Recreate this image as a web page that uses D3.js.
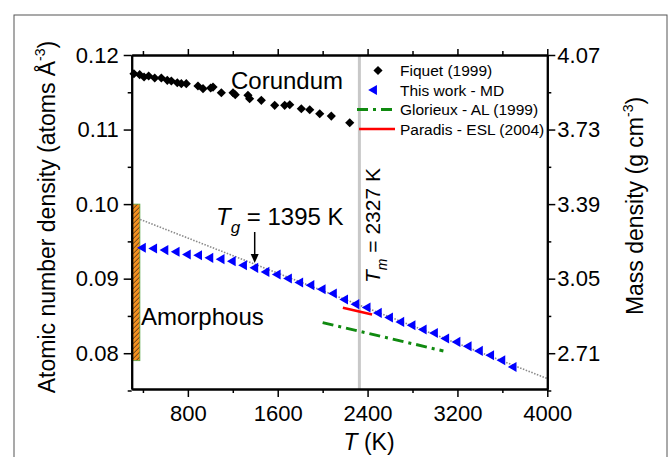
<!DOCTYPE html>
<html>
<head>
<meta charset="utf-8">
<script src="https://cdn.jsdelivr.net/npm/d3@7"></script>
<style>
body { margin: 0; background: #fff; }
text { font-family: "Liberation Sans", Arial, sans-serif; }
</style>
</head>
<body>
<div id="chart"></div>
<script>
// corundum, Fiquet (1999)
var corundumT = [320, 371, 410, 451, 505, 564, 617, 653, 706, 742, 786, 890, 935, 1003, 1024, 1098,
                 1202, 1222, 1335, 1350, 1454, 1573, 1662, 1707, 1810, 1885, 1974, 2077, 2241]
var corundumRho = [0.11749, 0.11736, 0.11705, 0.11718, 0.11691, 0.11691, 0.11660, 0.11651, 0.11628,
                   0.11615, 0.11615, 0.11584, 0.11548, 0.11557, 0.11570, 0.11494, 0.11494, 0.11467,
                   0.11459, 0.11413, 0.11392, 0.11325, 0.11325, 0.11333, 0.11279, 0.11266, 0.11212,
                   0.11181, 0.11091]
// this work - MD
var mdT = [400, 500, 600, 700, 800, 900, 1000, 1100, 1200, 1300, 1400, 1500, 1600, 1700, 1800, 1900,
           2000, 2100, 2200, 2300, 2400, 2500, 2600, 2700, 2800, 2900, 3000, 3100, 3200, 3300, 3400,
           3500, 3600, 3700]
var mdRho = [0.09414, 0.09405, 0.09383, 0.09360, 0.09325, 0.09315, 0.09279, 0.09262, 0.09235, 0.09181,
             0.09145, 0.09091, 0.09056, 0.09003, 0.08949, 0.08913, 0.08859, 0.08801, 0.08720, 0.08658,
             0.08613, 0.08541, 0.08479, 0.08420, 0.08376, 0.08318, 0.08272, 0.08197, 0.08152, 0.08094,
             0.08031, 0.07973, 0.07906, 0.07816]
// linear fit of the liquid
var fitT = [375, 4000]
var fitRho = [0.09795, 0.0766]
var glorieuxT = [2000, 3075]
var glorieuxRho = [0.0841, 0.0803]
var paradisT = [2180, 2440]
var paradisRho = [0.0861, 0.0852]
var amorphousT = [300, 373]
var amorphousRho = [0.0790, 0.1000]
var tm = 2327
var tg = 1395

var xMajor = [800, 1600, 2400, 3200, 4000]
var xMinor = [400, 1200, 2000, 2800, 3600]
var yMajor = [0.08, 0.09, 0.10, 0.11, 0.12]
var yMinor = [0.075, 0.085, 0.095, 0.105, 0.115]
var yLabels = ["0.08", "0.09", "0.10", "0.11", "0.12"]
var massLabels = ["2.71", "3.05", "3.39", "3.73", "4.07"]
var legendNames = ["Fiquet (1999)", "This work - MD", "Glorieux - AL (1999)", "Paradis - ESL (2004)"]

var svgSize = { width: 669, height: 457 }
var margin = { top: 55, left: 131.7 }
var chartSize = { width: 415.6, height: 334 }

var svg = d3.select("#chart").append("svg")
    .attr("width", svgSize.width)
    .attr("height", svgSize.height)

// outer grey frame
svg.append("rect")
    .attr("x", 14).attr("y", 15)
    .attr("width", 653).attr("height", 470)
    .attr("fill", "none").attr("stroke", "#555").attr("stroke-width", 1)

var defs = svg.append("defs")
var hatch = defs.append("pattern")
    .attr("id", "hatch").attr("patternUnits", "userSpaceOnUse")
    .attr("width", 5).attr("height", 5)
hatch.append("rect").attr("width", 5).attr("height", 5).attr("fill", "#f4901e")
hatch.append("path").attr("d", "M-1,6 L6,-1 M-1,1 L1,-1 M4,6 L6,4")
    .attr("stroke", "#222").attr("stroke-width", 0.8)

var frame = svg.append("g")
    .attr("transform", `translate(${margin.left}, ${margin.top})`)

var xScale = d3.scaleLinear().domain([300, 4000]).range([0, chartSize.width])
var yScale = d3.scaleLinear().domain([0.0752, 0.12]).range([chartSize.height, 0])

// melting line
frame.append("line")
    .attr("x1", xScale(tm)).attr("x2", xScale(tm))
    .attr("y1", 0).attr("y2", chartSize.height)
    .attr("stroke", "#c8c8c8").attr("stroke-width", 3)

// amorphous bar
frame.append("rect")
    .attr("x", xScale(amorphousT[0]))
    .attr("y", yScale(amorphousRho[1]))
    .attr("width", xScale(amorphousT[1]) - xScale(amorphousT[0]))
    .attr("height", yScale(amorphousRho[0]) - yScale(amorphousRho[1]))
    .attr("fill", "url(#hatch)").attr("stroke", "#5aa84a").attr("stroke-width", 0.8)

var line = d3.line().x(d => xScale(d[0])).y(d => yScale(d[1]))

frame.append("path")
    .attr("d", line(d3.zip(fitT, fitRho)))
    .attr("stroke", "#8a8a8a").attr("stroke-width", 1.6)
    .attr("stroke-dasharray", "1.5,1.5").attr("fill", "none")

frame.append("path")
    .attr("d", line(d3.zip(glorieuxT, glorieuxRho)))
    .attr("stroke", "#108a10").attr("stroke-width", 3)
    .attr("stroke-dasharray", "11,5,3,5").attr("fill", "none")

frame.append("path")
    .attr("d", line(d3.zip(paradisT, paradisRho)))
    .attr("stroke", "#ff0000").attr("stroke-width", 2.5).attr("fill", "none")

var diamond = d3.symbol().type(d3.symbolSquare).size(42)
var triangle = d3.symbol().type(d3.symbolTriangle).size(44)

frame.append("g").selectAll("path").data(d3.zip(corundumT, corundumRho))
    .enter().append("path")
    .attr("d", diamond)
    .attr("transform", d => `translate(${xScale(d[0])},${yScale(d[1])}) rotate(45)`)
    .attr("fill", "#000")

frame.append("g").selectAll("path").data(d3.zip(mdT, mdRho))
    .enter().append("path")
    .attr("d", triangle)
    .attr("transform", d => `translate(${xScale(d[0])},${yScale(d[1])}) rotate(-90)`)
    .attr("fill", "#0000ff")

// axes
function styleAxis(g) {
    g.select(".domain").attr("stroke", "#000").attr("stroke-width", 2)
    g.selectAll(".tick line").attr("stroke", "#000").attr("stroke-width", 1.5)
    g.selectAll(".tick text").attr("font-size", 22).attr("fill", "#000")
        .attr("font-family", "Liberation Sans, Arial, sans-serif")
}

frame.append("g").attr("transform", `translate(0, ${chartSize.height})`)
    .call(d3.axisBottom(xScale).tickValues(xMajor).tickSize(8).tickPadding(8).tickSizeOuter(0)
        .tickFormat(d3.format("d")))
    .call(styleAxis)
frame.append("g").attr("transform", `translate(0, ${chartSize.height})`)
    .call(d3.axisBottom(xScale).tickValues(xMinor).tickSize(4).tickFormat("").tickSizeOuter(0))
    .call(styleAxis)
frame.append("g")
    .call(d3.axisTop(xScale).tickValues(xMajor).tickSize(6).tickFormat("").tickSizeOuter(0))
    .call(styleAxis)
frame.append("g")
    .call(d3.axisTop(xScale).tickValues(xMinor).tickSize(4).tickFormat("").tickSizeOuter(0))
    .call(styleAxis)

frame.append("g")
    .call(d3.axisLeft(yScale).tickValues(yMajor).tickSize(8).tickPadding(5).tickSizeOuter(0)
        .tickFormat((d, i) => yLabels[i]))
    .call(styleAxis)
frame.append("g")
    .call(d3.axisLeft(yScale).tickValues(yMinor).tickSize(4).tickFormat("").tickSizeOuter(0))
    .call(styleAxis)
frame.append("g").attr("transform", `translate(${chartSize.width}, 0)`)
    .call(d3.axisRight(yScale).tickValues(yMajor).tickSize(8).tickPadding(2).tickSizeOuter(0)
        .tickFormat((d, i) => massLabels[i]))
    .call(styleAxis)
frame.append("g").attr("transform", `translate(${chartSize.width}, 0)`)
    .call(d3.axisRight(yScale).tickValues(yMinor).tickSize(4).tickFormat("").tickSizeOuter(0))
    .call(styleAxis)

// axis titles
var xt = svg.append("text").attr("x", 369).attr("y", 450)
    .attr("text-anchor", "middle").attr("font-size", 23)
xt.append("tspan").attr("font-style", "italic").text("T")
xt.append("tspan").text(" (K)")

var yl = svg.append("text")
    .attr("transform", "translate(55, 217) rotate(-90)")
    .attr("text-anchor", "middle").attr("font-size", 23)
yl.append("tspan").text("Atomic number density (atoms Å")
yl.append("tspan").attr("font-size", 14).attr("dy", -10).text("-3")
yl.append("tspan").attr("dy", 10).text(")")

var yr = svg.append("text")
    .attr("transform", "translate(643, 206) rotate(-90)")
    .attr("text-anchor", "middle").attr("font-size", 23)
yr.append("tspan").text("Mass density (g cm")
yr.append("tspan").attr("font-size", 14).attr("dy", -10).text("-3")
yr.append("tspan").attr("dy", 10).text(")")

// annotations
svg.append("text").attr("x", 231).attr("y", 89).attr("font-size", 24).text("Corundum")
svg.append("text").attr("x", 141).attr("y", 325).attr("font-size", 24).text("Amorphous")

var tgText = svg.append("text").attr("x", 216).attr("y", 225).attr("font-size", 24)
tgText.append("tspan").attr("font-style", "italic").text("T")
tgText.append("tspan").attr("font-style", "italic").attr("font-size", 17).attr("dy", 8).text("g")
tgText.append("tspan").attr("dy", -8).text(" = 1395 K")

var tgx = margin.left + xScale(tg)
svg.append("line").attr("x1", tgx).attr("x2", tgx).attr("y1", 232).attr("y2", 256)
    .attr("stroke", "#000").attr("stroke-width", 1.5)
svg.append("path").attr("d", `M${tgx - 4},254 L${tgx + 4},254 L${tgx},263 Z`).attr("fill", "#000")

var tmText = svg.append("text")
    .attr("transform", `translate(${margin.left + xScale(tm) + 21}, 283) rotate(-90)`)
    .attr("font-size", 21)
tmText.append("tspan").attr("font-style", "italic").text("T")
tmText.append("tspan").attr("font-style", "italic").attr("font-size", 14).attr("dy", 7).text("m")
tmText.append("tspan").attr("dy", -7).text(" = 2327 K")

// legend
var legend = svg.append("g").attr("font-size", 15.5)
var rowY = [70.5, 90, 109.5, 129]
legendNames.forEach((name, i) => {
    legend.append("text").attr("x", 400).attr("y", rowY[i]).attr("dy", "0.36em").text(name)
})
legend.append("path").attr("d", diamond)
    .attr("transform", `translate(378, ${rowY[0]}) rotate(45)`).attr("fill", "#000")
legend.append("path").attr("d", triangle)
    .attr("transform", `translate(374, ${rowY[1]}) rotate(-90)`).attr("fill", "#0000ff")
legend.append("line").attr("x1", 357).attr("x2", 395).attr("y1", rowY[2]).attr("y2", rowY[2])
    .attr("stroke", "#108a10").attr("stroke-width", 3).attr("stroke-dasharray", "11,5,3,5")
legend.append("line").attr("x1", 359).attr("x2", 395).attr("y1", rowY[3]).attr("y2", rowY[3])
    .attr("stroke", "#ff0000").attr("stroke-width", 2.5)
</script>
</body>
</html>
